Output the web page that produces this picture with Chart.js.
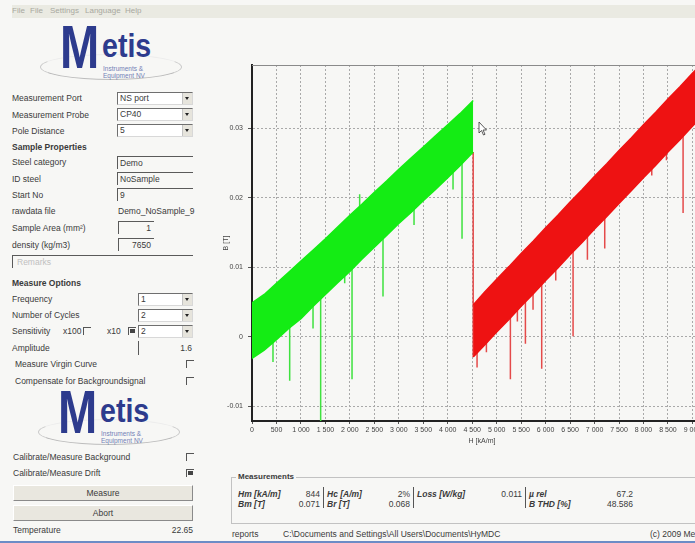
<!DOCTYPE html>
<html>
<head>
<meta charset="utf-8">
<script src="https://cdn.jsdelivr.net/npm/chart.js@4.4.1/dist/chart.umd.min.js"></script>
<style>
html, body { margin: 0; padding: 0; }
body {
  width: 695px; height: 543px; overflow: hidden; position: relative;
  background: #f7f7f5; color: #3a3a3a;
  font-family: "Liberation Sans", Arial, sans-serif; font-size: 8.5px;
}
.t { position: absolute; white-space: nowrap; line-height: 12px; }
.b { font-weight: bold; }
.bi { font-weight: bold; font-style: italic; }
.menu { position: absolute; left: 12px; top: 5px; width: 690px; height: 13px; background: #eaeae2; }
.menu span { position: absolute; top: 1px; color: #a8a8a0; font-size: 8px; }
.combo { position: absolute; height: 13px; background: #fff; border: 1px solid; border-color: #6f6f6f #d8d8d8 #d8d8d8 #6f6f6f; box-sizing: border-box; }
.combo span { position: absolute; left: 2px; top: 0; line-height: 11px; }
.combo i { position: absolute; right: 0; top: 0; width: 9px; height: 11px; background: #e6e4dc; border-left: 1px solid #c4c4c4; }
.combo i:after { content: ""; position: absolute; left: 2px; top: 4px; border: 2.5px solid transparent; border-top: 3px solid #222; }
.edit { position: absolute; height: 13px; border-top: 1px solid #5a5a5a; border-left: 1px solid #5a5a5a; box-sizing: border-box; }
.edit span { position: absolute; left: 2px; top: 0; line-height: 12px; }
.edit span.r { left: auto; right: 3px; }
.chk { position: absolute; width: 7px; height: 7px; border-top: 1px solid #555; border-left: 1px solid #555; }
.chk.on:after { content: ""; position: absolute; left: 1px; top: 1px; width: 5px; height: 4px; background: #444; }
.btn { position: absolute; left: 13px; width: 180px; height: 16px; background: #e9e7df; border: 1px solid; border-color: #fff #8a8a8a #8a8a8a #fff; box-sizing: border-box; text-align: center; line-height: 14px; }
.logo { position: absolute; width: 145px; height: 56px; }
.logo .ring { position: absolute; left: 0; top: 27px; width: 140px; height: 24px; border: 1px solid; border-color: #ececec #c9c9c9 #bdbdbd #c9c9c9; border-radius: 50%; }
.logo .m { position: absolute; left: 20px; top: -16px; font: bold 62px "Liberation Sans", Arial, sans-serif; color: #2d3b8d; transform: scaleX(0.76); transform-origin: left top; }
.logo .e { position: absolute; left: 62px; top: -1px; font: bold 34px "Liberation Sans", Arial, sans-serif; color: #2d3b8d; transform: scaleX(0.84); transform-origin: left top; }
.logo .s { position: absolute; left: 63px; font-size: 6.5px; color: #7481b5; line-height: 7px; }
.fs { position: absolute; left: 231px; top: 477px; width: 480px; height: 45px; border: 1px solid #c2c2c2; }
.sep { position: absolute; width: 1px; background: #555; top: 487px; height: 21px; }
.blue { position: absolute; left: 0; top: 541px; width: 695px; height: 2px; background: #6c8cc6; }
#wrap { position: absolute; left: 215px; top: 55px; width: 497px; height: 390px; }
</style>
</head>
<body>
<div class="menu">
  <span style="left:0">File</span><span style="left:18px">File</span><span style="left:38px">Settings</span>
  <span style="left:73px">Language</span><span style="left:113px">Help</span>
</div>
<div id="ui"></div>
<div id="wrap"><canvas id="chart" width="497" height="390"></canvas></div>
<svg style="position:absolute;left:478px;top:121px" width="10" height="15" viewBox="0 0 10 15">
  <path d="M1 1 L1 12 L3.5 9.5 L5.5 14 L7 13.3 L5 9 L8.5 9 Z" fill="#fff" stroke="#333" stroke-width="0.8"/>
</svg>
<div class="blue"></div>

<script>
// axis ticks
const xTicks = [0, 500, 1000, 1500, 2000, 2500, 3000, 3500, 4000, 4500, 5000, 5500, 6000, 6500, 7000, 7500, 8000, 8500, 9000];
const xTickLabels = ['0', '500', '1 000', '1 500', '2 000', '2 500', '3 000', '3 500', '4 000', '4 500',
  '5 000', '5 500', '6 000', '6 500', '7 000', '7 500', '8 000', '8 500', '9 000'];
const yTicks = [-0.01, 0, 0.01, 0.02, 0.03];
const yTickLabels = ['-0.01', '0', '0.01', '0.02', '0.03'];

// first cycle (green band): H and the lower / upper edge of B
const greenH = [0, 250, 500, 750, 1000, 1250, 1500, 1750, 2000, 2250, 2500, 2750, 3000, 3250, 3500, 3750, 4000, 4250, 4520];
const greenLow = [-0.0031, -0.0019, -0.0004, 0.0012, 0.0026, 0.0044, 0.0061, 0.0078, 0.0094, 0.0112, 0.0129, 0.0146,
  0.0163, 0.0179, 0.0196, 0.0212, 0.0229, 0.0246, 0.0266];
const greenHigh = [0.0049, 0.0061, 0.0077, 0.0093, 0.0109, 0.0125, 0.0141, 0.0158, 0.0175, 0.0191, 0.0208, 0.0224,
  0.0241, 0.0257, 0.0273, 0.0289, 0.0305, 0.0321, 0.0340];

// second cycle (red band)
const redH = [4520, 4750, 5000, 5250, 5500, 5750, 6000, 6250, 6500, 6750, 7000, 7250, 7500, 7750, 8000, 8250, 8500, 8750, 9000, 9250, 9400];
const redLow = [-0.0029, -0.0012, 0.0007, 0.0025, 0.0044, 0.0062, 0.0081, 0.0099, 0.0118, 0.0136, 0.0155, 0.0173,
  0.0192, 0.0210, 0.0229, 0.0247, 0.0266, 0.0284, 0.0303, 0.0321, 0.0332];
const redHigh = [0.0046, 0.0064, 0.0083, 0.0101, 0.0120, 0.0138, 0.0157, 0.0175, 0.0194, 0.0212, 0.0231, 0.0249,
  0.0268, 0.0286, 0.0305, 0.0323, 0.0342, 0.0360, 0.0379, 0.0397, 0.0408];

// single-sample spikes: H, tip of the spike, point inside the band where it starts
const greenSpikeH = [429, 770, 1247, 1403, 1894, 2044, 2200, 2677, 3311, 4108, 4292];
const greenSpikeTip = [-0.0036, -0.0063, 0.0012, -0.013, 0.0077, -0.0061, 0.0205, 0.0058, 0.0161, 0.0212, 0.0141];
const greenSpikeTop = [0.0, 0.003, 0.006, 0.008, 0.011, 0.012, 0.017, 0.016, 0.020, 0.025, 0.027];

const redSpikeH = [4599, 4790, 5280, 5423, 5587, 5743, 5920, 6207, 6561, 6854, 7208, 8169, 8469, 8809];
const redSpikeTip = [-0.0044, -0.0022, -0.0061, 0.0022, -0.0010, 0.0039, -0.0046, 0.0081, 0.0001, 0.0111, 0.0127, 0.0232, 0.0254, 0.0178];
const redSpikeTop = [0.0, 0.001, 0.004, 0.005, 0.006, 0.008, 0.009, 0.011, 0.014, 0.016, 0.019, 0.026, 0.028, 0.030];

// drop from end of first cycle to start of second
const jumpH = [4520, 4520];
const jumpB = [0.0266, -0.0029];

// ---------- left panel ----------
const ui = document.getElementById('ui');

function add(html, cls, x, y, extra) {
  const d = document.createElement('div');
  d.className = cls;
  d.style.left = x + 'px';
  d.style.top = y + 'px';
  d.innerHTML = html;
  if (extra) Object.assign(d.style, extra);
  ui.appendChild(d);
  return d;
}
function text(s, x, y, cls) { return add(s, 't ' + (cls || ''), x, y - 6); }
function textR(s, right, y, cls) { return add(s, 't ' + (cls || ''), 0, y - 6, { left: 'auto', right: (695 - right) + 'px' }); }
function combo(s, x, y, w) { return add('<span>' + s + '</span><i></i>', 'combo', x, y, { width: w + 'px' }); }
function edit(s, x, y, w, right) { return add('<span' + (right ? ' class="r"' : '') + '>' + s + '</span>', 'edit', x, y, { width: w + 'px' }); }
function chk(x, y, on) { return add('', 'chk' + (on ? ' on' : ''), x, y); }
function logo(x, y) {
  add('<div class="ring"></div><div class="m">M</div><div class="e">etis</div>' +
      '<div class="s" style="top:38px">Instruments &amp;</div><div class="s" style="top:45px">Equipment NV</div>', 'logo', x, y);
}

logo(40, 27);
text('Measurement Port', 12, 98); combo('NS port', 117, 92, 76);
text('Measurement Probe', 12, 114.5); combo('CP40', 117, 108, 76);
text('Pole Distance', 12, 130.5); combo('5', 117, 124, 76);
text('Sample Properties', 12, 146.5, 'b');
text('Steel category', 12, 162); edit('Demo', 117, 156, 76);
text('ID steel', 12, 178.5); edit('NoSample', 117, 172, 76);
text('Start No', 12, 194.5); edit('9', 117, 188, 76);
text('rawdata file', 12, 211); text('Demo_NoSample_9', 118, 211);
text('Sample Area (mm²)', 12, 228); edit('1', 118, 221, 36, true);
text('density (kg/m3)', 12, 244.5); edit('7650', 118, 238, 36, true);
edit('<span style="color:#c0c0c0">Remarks</span>', 12, 255, 181);
text('Measure Options', 12, 282.5, 'b');
text('Frequency', 12, 298.5); combo('1', 138, 293, 55);
text('Number of Cycles', 12, 315); combo('2', 138, 309, 55);
text('Sensitivity', 12, 331); text('x100', 63, 331); chk(83, 327, false); text('x10', 107, 331); chk(128, 327, true);
combo('2', 138, 325, 55);
text('Amplitude', 12, 347.5); add('', 'edit', 138, 341, { width: '55px', borderTop: 'none', height: '14px' }); textR('1.6', 192, 348);
text('Measure Virgin Curve', 15, 364); chk(186, 360, false);
text('Compensate for Backgroundsignal', 15, 380.5); chk(186, 377, false);
logo(38, 392);
text('Calibrate/Measure Background', 13, 456.5); chk(186, 453, false);
text('Calibrate/Measure Drift', 13, 473); chk(186, 469, true);
add('Measure', 'btn', 13, 485);
add('Abort', 'btn', 13, 505);
text('Temperature', 13, 530); textR('22.65', 193, 530);

// ---------- measurements box ----------
add('', 'fs', 231, 477);
add('Measurements', 't b', 236, 471, { background: '#f7f7f5', padding: '0 2px', fontSize: '8px' });
text('Hm [kA/m]', 238, 494, 'bi'); textR('844', 320, 494);
text('Bm [T]', 238, 504, 'bi'); textR('0.071', 320, 504);
add('', 'sep', 323, 487);
text('Hc [A/m]', 327, 494, 'bi'); textR('2%', 410, 494);
text('Br [T]', 327, 504, 'bi'); textR('0.068', 410, 504);
add('', 'sep', 413, 487);
text('Loss [W/kg]', 417, 494, 'bi'); textR('0.011', 522, 494);
add('', 'sep', 525, 487);
text('µ rel', 529, 494, 'bi'); textR('67.2', 633, 494);
text('B THD [%]', 529, 504, 'bi'); textR('48.586', 633, 504);
text('reports', 232, 534);
text('C:\\Documents and Settings\\All Users\\Documents\\HyMDC', 283, 534);
text('(c) 2009 Metis Instruments', 650, 534);

// ---------- chart ----------
const pts = (xs, ys) => xs.map((x, i) => ({ x: x, y: ys[i] }));
function spikes(xs, tips, tops) {
  const out = [];
  xs.forEach((x, i) => { out.push({ x: x, y: tops[i] }, { x: x, y: tips[i] }, { x: x, y: null }); });
  return out;
}

const GREEN = '#14ec14';
const RED = '#ee1212';

const frame = {
  id: 'frame',
  beforeDatasetsDraw(chart) {
    const { ctx, chartArea: a } = chart;
    ctx.save();
    ctx.strokeStyle = '#8a8a8a';
    ctx.lineWidth = 1;
    ctx.beginPath();
    ctx.moveTo(a.left, a.top + 0.5);
    ctx.lineTo(a.right, a.top + 0.5);
    ctx.stroke();
    ctx.restore();
  }
};

const tickFont = { family: '"Liberation Sans", Arial, sans-serif', size: 7 };

new Chart(document.getElementById('chart'), {
  type: 'line',
  data: {
    datasets: [
      { data: pts(greenH, greenHigh), borderColor: GREEN, backgroundColor: GREEN, borderWidth: 1.5, fill: '+1', pointRadius: 0 },
      { data: pts(greenH, greenLow), borderColor: GREEN, borderWidth: 1.5, fill: false, pointRadius: 0 },
      { data: pts(redH, redHigh), borderColor: RED, backgroundColor: RED, borderWidth: 1.5, fill: '+1', pointRadius: 0 },
      { data: pts(redH, redLow), borderColor: RED, borderWidth: 1.5, fill: false, pointRadius: 0 },
      { data: spikes(greenSpikeH, greenSpikeTip, greenSpikeTop), borderColor: '#3fe23f', borderWidth: 1.5, pointRadius: 0, spanGaps: false },
      { data: spikes(redSpikeH, redSpikeTip, redSpikeTop), borderColor: '#e44a4a', borderWidth: 1.5, pointRadius: 0, spanGaps: false },
      { data: pts(jumpH, jumpB), borderColor: '#e44a4a', borderWidth: 1.5, pointRadius: 0 }
    ]
  },
  options: {
    responsive: false,
    animation: false,
    devicePixelRatio: 1,
    layout: { padding: { top: 10, left: 0, right: 0, bottom: 0 } },
    plugins: { legend: { display: false }, tooltip: { enabled: false } },
    scales: {
      x: {
        type: 'linear', min: 0, max: 9400,
        afterBuildTicks: s => { s.ticks = xTicks.map(v => ({ value: v })); },
        afterFit: s => { s.height = 24; },
        ticks: { callback: (v, i) => xTickLabels[i], font: tickFont, color: '#444', maxRotation: 0, autoSkip: false, padding: 2 },
        grid: { color: '#a9a9a9', tickColor: '#555', tickLength: 3 },
        border: { color: '#222', width: 2, dash: [2, 2] },
        title: { display: true, text: 'H [kA/m]', font: tickFont, color: '#444', padding: { top: 0, bottom: 0 } }
      },
      y: {
        type: 'linear', min: -0.0121, max: 0.0391,
        afterBuildTicks: s => { s.ticks = yTicks.map(v => ({ value: v })); },
        afterFit: s => { s.width = 37; },
        ticks: { callback: (v, i) => yTickLabels[i], font: tickFont, color: '#444', padding: 5 },
        grid: { color: '#a9a9a9', tickColor: '#555', tickLength: 4 },
        border: { color: '#222', width: 2, dash: [2, 2] },
        title: { display: true, text: 'B [T]', font: tickFont, color: '#444', padding: { top: 7, bottom: 0 } }
      }
    }
  },
  plugins: [frame]
});
</script>
</body>
</html>
